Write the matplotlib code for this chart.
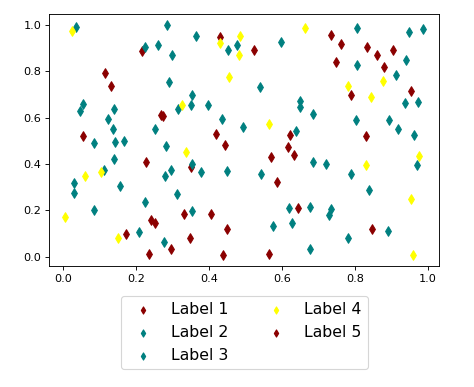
import matplotlib
matplotlib.use('Agg')
import matplotlib.pyplot as plt

# Label 1 (darkred)
x1 = [0.216, 0.117, 0.132, 0.270, 0.056, 0.227, 0.242, 0.254, 0.332, 0.172,
      0.297, 0.236, 0.430, 0.524, 0.419, 0.444, 0.350, 0.406, 0.450, 0.348]
y1 = [0.886, 0.793, 0.735, 0.610, 0.521, 0.409, 0.160, 0.145, 0.184, 0.098,
      0.035, 0.012, 0.947, 0.891, 0.531, 0.483, 0.387, 0.184, 0.121, 0.081]

# Label 2 (teal)
x2 = [0.286, 0.224, 0.261, 0.300, 0.291, 0.056, 0.047, 0.140, 0.124, 0.315,
      0.252, 0.137, 0.085, 0.143, 0.169, 0.283, 0.140, 0.114, 0.297, 0.280,
      0.030, 0.030, 0.158, 0.313, 0.224, 0.085, 0.210, 0.277, 0.364, 0.453,
      0.476, 0.598, 0.540, 0.355, 0.351, 0.397, 0.650]
y2 = [0.999, 0.904, 0.915, 0.868, 0.754, 0.660, 0.628, 0.639, 0.596, 0.637,
      0.552, 0.552, 0.491, 0.495, 0.498, 0.476, 0.422, 0.375, 0.375, 0.347,
      0.318, 0.275, 0.306, 0.271, 0.236, 0.203, 0.105, 0.066, 0.954, 0.891,
      0.915, 0.925, 0.732, 0.697, 0.653, 0.656, 0.673]

# Label 3 (teal)
x3 = [0.035, 0.650, 0.685, 0.437, 0.494, 0.639, 0.355, 0.378, 0.449, 0.543,
      0.686, 0.355, 0.620, 0.677, 0.627, 0.575, 0.677, 0.807, 0.950, 0.986,
      0.807, 0.940, 0.913, 0.938, 0.973, 0.803, 0.894, 0.919, 0.963, 0.720,
      0.790, 0.970, 0.839, 0.734, 0.729, 0.892, 0.781]
y3 = [0.991, 0.645, 0.617, 0.594, 0.558, 0.541, 0.400, 0.364, 0.371, 0.357,
      0.407, 0.199, 0.210, 0.215, 0.145, 0.131, 0.035, 0.987, 0.970, 0.983,
      0.826, 0.850, 0.785, 0.663, 0.668, 0.589, 0.589, 0.551, 0.524, 0.401,
      0.357, 0.394, 0.287, 0.207, 0.179, 0.110, 0.081]

# Label 4 (yellow)
x4 = [0.026, 0.328, 0.337, 0.105, 0.060, 0.007, 0.152, 0.430, 0.485, 0.483,
      0.665, 0.456, 0.565, 0.877, 0.781, 0.844, 0.831, 0.976, 0.953, 0.961]
y4 = [0.973, 0.653, 0.452, 0.364, 0.347, 0.171, 0.081, 0.922, 0.951, 0.869,
      0.987, 0.776, 0.574, 0.757, 0.735, 0.688, 0.397, 0.433, 0.250, 0.006]

# Label 5 (darkred)
x5 = [0.275, 0.622, 0.618, 0.634, 0.570, 0.586, 0.645, 0.440, 0.566, 0.734,
      0.762, 0.833, 0.906, 0.862, 0.749, 0.880, 0.790, 0.953, 0.830, 0.848]
y5 = [0.606, 0.524, 0.472, 0.440, 0.430, 0.322, 0.210, 0.009, 0.012, 0.958,
      0.918, 0.905, 0.891, 0.869, 0.839, 0.817, 0.699, 0.714, 0.522, 0.121]

series = [(x1, y1, 'darkred', 'Label 1'),
          (x2, y2, 'teal', 'Label 2'),
          (x3, y3, 'teal', 'Label 3'),
          (x4, y4, 'yellow', 'Label 4'),
          (x5, y5, 'darkred', 'Label 5')]

fig = plt.figure(figsize=(474 / 81, 387 / 81), dpi=81)
ax = fig.add_axes([0.104, 0.313, 0.823, 0.651])

for xs, ys, c, lab in series:
    ax.scatter(xs, ys, marker='d', color=c, label=lab)

ax.set_xlim(-0.037, 1.032)
ax.set_ylim(-0.039, 1.047)
ax.set_xticks([0.0, 0.2, 0.4, 0.6, 0.8, 1.0])
ax.set_yticks([0.0, 0.2, 0.4, 0.6, 0.8, 1.0])

ax.legend(loc='upper center', bbox_to_anchor=(244.4 / 474, 1 - 295.7 / 387),
          bbox_transform=fig.transFigure, borderaxespad=0, ncol=2,
          fontsize=14, markerscale=0.75)

fig.savefig('out.png', dpi=81)
